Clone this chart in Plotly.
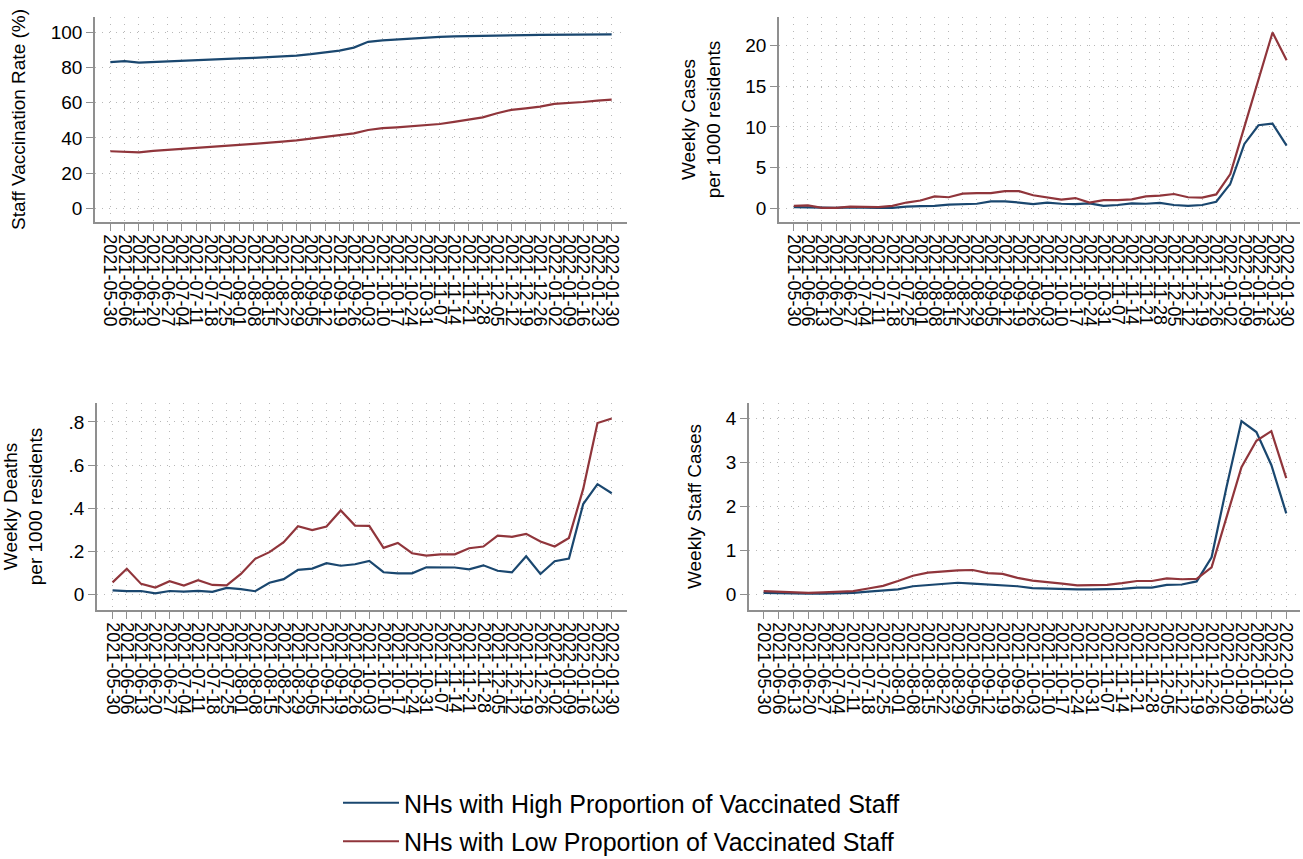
import plotly.graph_objects as go

dates = [
    "2021-05-30", "2021-06-06", "2021-06-13", "2021-06-20", "2021-06-27",
    "2021-07-04", "2021-07-11", "2021-07-18", "2021-07-25", "2021-08-01",
    "2021-08-08", "2021-08-15", "2021-08-22", "2021-08-29", "2021-09-05",
    "2021-09-12", "2021-09-19", "2021-09-26", "2021-10-03", "2021-10-10",
    "2021-10-17", "2021-10-24", "2021-10-31", "2021-11-07", "2021-11-14",
    "2021-11-21", "2021-11-28", "2021-12-05", "2021-12-12", "2021-12-19",
    "2021-12-26", "2022-01-02", "2022-01-09", "2022-01-16", "2022-01-23",
    "2022-01-30",
]

series_names = [
    "NHs with High Proportion of Vaccinated Staff",
    "NHs with Low Proportion of Vaccinated Staff",
]

vacc_high = [83.0, 83.6, 82.8, 83.2, 83.6, 84.0, 84.3, 84.6, 84.9, 85.2, 85.5, 85.9,
             86.3, 86.8, 87.6, 88.5, 89.6, 91.3, 94.6, 95.4, 96.0, 96.6, 97.1, 97.4,
             97.7, 97.9, 98.1, 98.2, 98.3, 98.4, 98.5, 98.6, 98.7, 98.7, 98.8, 98.8]
vacc_low = [32.4, 32.2, 31.8, 32.6, 33.1, 33.9, 34.5, 34.8, 35.4, 36.0, 36.6, 37.1,
            37.9, 38.6, 39.6, 40.5, 41.5, 42.6, 44.5, 45.5, 46.0, 46.6, 47.2, 47.9,
            49.1, 50.4, 51.7, 54.0, 55.9, 56.8, 57.8, 59.3, 59.7, 60.4, 61.2, 61.7]

cases_high = [0.15, 0.10, 0.05, 0.05, 0.10, 0.05, 0.05, 0.05, 0.20, 0.25, 0.30, 0.45,
              0.50, 0.55, 0.85, 0.85, 0.70, 0.50, 0.70, 0.55, 0.50, 0.60, 0.30, 0.40,
              0.60, 0.55, 0.65, 0.40, 0.30, 0.40, 0.80, 3.0, 7.9, 10.2, 10.4, 7.7]
cases_low = [0.30, 0.35, 0.05, 0.05, 0.20, 0.15, 0.15, 0.30, 0.70, 0.95, 1.45, 1.35,
             1.80, 1.85, 1.85, 2.10, 2.10, 1.60, 1.35, 1.05, 1.25, 0.70, 1.00, 1.00,
             1.10, 1.45, 1.55, 1.75, 1.35, 1.30, 1.70, 4.2, 10.0, 15.8, 21.6, 18.2]

deaths_high = [0.020, 0.016, 0.017, 0.006, 0.017, 0.014, 0.018, 0.013, 0.031, 0.026,
               0.016, 0.055, 0.072, 0.115, 0.121, 0.146, 0.134, 0.141, 0.156, 0.104,
               0.099, 0.099, 0.127, 0.127, 0.126, 0.117, 0.136, 0.111, 0.103, 0.178,
               0.096, 0.155, 0.167, 0.420, 0.512, 0.470]
deaths_low = [0.057, 0.120, 0.050, 0.033, 0.062, 0.042, 0.067, 0.045, 0.043, 0.096,
              0.166, 0.197, 0.243, 0.317, 0.299, 0.316, 0.390, 0.320, 0.319, 0.217,
              0.240, 0.192, 0.181, 0.187, 0.187, 0.215, 0.223, 0.274, 0.268, 0.282,
              0.246, 0.223, 0.263, 0.490, 0.795, 0.816]

staff_high = [0.04, 0.03, 0.02, 0.02, 0.02, 0.03, 0.04, 0.07, 0.10, 0.12, 0.19, 0.22,
              0.25, 0.27, 0.25, 0.23, 0.20, 0.19, 0.15, 0.14, 0.12, 0.12, 0.12, 0.12,
              0.13, 0.16, 0.16, 0.22, 0.23, 0.30, 0.85, 2.45, 3.95, 3.70, 2.95, 1.85]
staff_low = [0.08, 0.07, 0.05, 0.04, 0.05, 0.06, 0.08, 0.14, 0.20, 0.31, 0.43, 0.50,
             0.53, 0.55, 0.56, 0.49, 0.47, 0.38, 0.32, 0.29, 0.25, 0.21, 0.21, 0.22,
             0.26, 0.31, 0.31, 0.37, 0.35, 0.36, 0.62, 1.75, 2.90, 3.50, 3.72, 2.65]

y_titles = ["Staff Vaccination Rate (%)", "Weekly Cases<br>per 1000 residents",
            "Weekly Deaths<br>per 1000 residents", "Weekly Staff Cases"]
y_tickvals = [[0, 20, 40, 60, 80, 100], [0, 5, 10, 15, 20],
              [0, 0.2, 0.4, 0.6, 0.8], [0, 1, 2, 3, 4]]
y_ticktext = [["0", "20", "40", "60", "80", "100"], ["0", "5", "10", "15", "20"],
              ["0", ".2", ".4", ".6", ".8"], ["0", "1", "2", "3", "4"]]

panels = [(vacc_high, vacc_low), (cases_high, cases_low),
          (deaths_high, deaths_low), (staff_high, staff_low)]

colors = ["#1a476f", "#90353b"]
W, H = 1303, 859

# pixel boxes: (left, right, top, bottom)
boxes = [(95, 627, 17, 222), (779, 1300, 17, 222),
         (97, 627, 403, 610), (749, 1300, 403, 610)]
x_ranges = [[-1.07, 36.07], [-1.05, 35.95], [-1.09, 36.07], [-0.98, 35.92]]
y_ranges = [[-7.8, 108.7], [-1.69, 23.5], [-0.071, 0.888], [-0.35, 4.36]]
standoffs = [20, 20, 24, 19]

FONT = "Liberation Sans, Arial, Helvetica, sans-serif"
AXCOL = "#8f8f8f"
GRIDCOL = "#b8b8b8"

fig = go.Figure()
layout = {}
for k, (hi, lo) in enumerate(panels):
    n = "" if k == 0 else str(k + 1)
    for j, vals in enumerate((hi, lo)):
        fig.add_trace(go.Scatter(
            x=dates, y=vals, mode="lines", name=series_names[j],
            line=dict(color=colors[j], width=2.2),
            xaxis="x" + n, yaxis="y" + n,
            legendgroup=str(j), showlegend=(k == 0),
        ))
    l, r, t, b = boxes[k]
    layout["xaxis" + n] = dict(
        domain=[l / W, r / W], anchor="y" + n, type="category",
        range=x_ranges[k], tickmode="array", tickvals=dates, ticktext=dates,
        tickangle=90, tickfont=dict(size=18, color="black", family=FONT),
        showline=True, linecolor=AXCOL, linewidth=1.5,
        ticks="outside", ticklen=7, tickcolor=AXCOL, tickwidth=1.2,
        showgrid=True, gridcolor=GRIDCOL, gridwidth=1, griddash="1px,6px",
        zeroline=False,
    )
    layout["yaxis" + n] = dict(
        domain=[1 - b / H, 1 - t / H], anchor="x" + n,
        range=y_ranges[k], tickmode="array", tickvals=y_tickvals[k],
        ticktext=y_ticktext[k], tickfont=dict(size=19, color="black", family=FONT),
        title=dict(text=y_titles[k], font=dict(size=19, color="black", family=FONT),
                   standoff=standoffs[k]),
        showline=True, linecolor=AXCOL, linewidth=1.5,
        ticks="outside", ticklen=7, tickcolor=AXCOL, tickwidth=1.2,
        showgrid=True, gridcolor=GRIDCOL, gridwidth=1, griddash="1px,6px",
        zeroline=False,
    )

fig.update_layout(
    **layout,
    width=W, height=H,
    margin=dict(l=0, r=0, t=0, b=0, autoexpand=False),
    paper_bgcolor="white", plot_bgcolor="white",
    font=dict(family=FONT, color="black"),
    showlegend=True,
    legend=dict(
        x=338 / W, xanchor="left", y=1 - 780 / H, yanchor="top",
        font=dict(size=25, color="black", family=FONT),
        tracegroupgap=3, bgcolor="rgba(0,0,0,0)",
        itemwidth=56,
    ),
)

fig.write_html(
    "out.html",
    config={"displayModeBar": False},
    post_script="document.body.style.margin='0';document.body.style.overflow='hidden';",
)
